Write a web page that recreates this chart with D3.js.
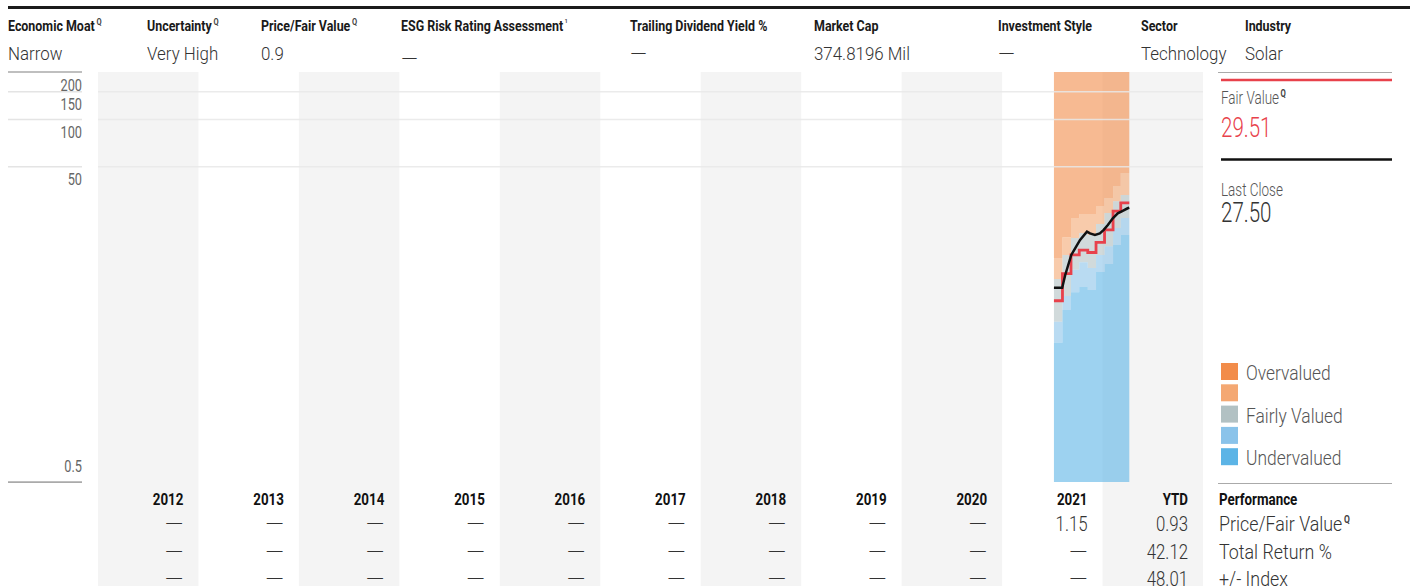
<!DOCTYPE html>
<html>
<head>
<meta charset="utf-8">
<style>
  body { margin: 0; background: #fff; }
  svg { display: block; font-family: Roboto, 'Liberation Sans', sans-serif; }
</style>
<script src="https://cdn.jsdelivr.net/npm/d3@7"></script>
</head>
<body>
<svg id="chart" width="1410" height="586"></svg>
<script>
// header strip
const headerLabels = ['Economic Moat', 'Uncertainty', 'Price/Fair Value', 'ESG Risk Rating Assessment', 'Trailing Dividend Yield %', 'Market Cap', 'Investment Style', 'Sector', 'Industry']
const headerMarks = ['Q', 'Q', 'Q', '1', '', '', '', '', '']
const headerValues = ['Narrow', 'Very High', '0.9', '—', '—', '374.8196 Mil', '—', 'Technology', 'Solar']
const headerX = [8, 147, 261, 401, 630, 814, 998, 1141, 1245]

// columns + table
const years = ['2012', '2013', '2014', '2015', '2016', '2017', '2018', '2019', '2020', '2021', 'YTD']
const priceFairValue = [null, null, null, null, null, null, null, null, null, 1.15, 0.93]
const totalReturn = [null, null, null, null, null, null, null, null, null, null, 42.12]
const plusMinusIndex = [null, null, null, null, null, null, null, null, null, null, 48.01]
const rowLabels = ['Price/Fair Value', 'Total Return %', '+/- Index']

// y axis
const yTicks = [200, 150, 100, 50, 0.5]

// monthly fair value + valuation bands
const monthDates = ['2021-07-08', '2021-08-08', '2021-09-08', '2021-10-08', '2021-11-08', '2021-12-08', '2022-01-08', '2022-02-08', '2022-03-08']
const lastDate = '2022-04-08'
const fairValue = [7.07, 10.5, 13.8, 14.8, 14.3, 16.6, 19.9, 26.2, 29.51]
const overFloor = [13.1, 17.9, 23.7, 25.1, 25.1, 28.2, 31.7, 37.8, 45.7]
const fairCeil = [9.7, 13.8, 17.7, 19.0, 18.5, 21.7, 25.5, 30.3, 33.1]
const fairFloor = [5.2, 7.57, 11.1, 12.4, 11.4, 13.8, 15.7, 20.5, 23.7]
const underCeil = [3.83, 6.17, 8.0, 8.64, 8.27, 10.75, 12.1, 15.95, 18.5]

// price
const priceDates = ['2021-07-08', '2021-08-07', '2021-08-18', '2021-09-09', '2021-09-23', '2021-10-11', '2021-11-05', '2021-11-16', '2021-12-04', '2021-12-22', '2022-01-05', '2022-01-20', '2022-02-07', '2022-02-25', '2022-03-15', '2022-04-02', '2022-04-08']
const priceValues = [8.55, 8.55, 10.3, 13.8, 15.2, 17.2, 19.4, 18.9, 18.5, 18.9, 19.9, 21.4, 23.6, 25.35, 26.3, 27.3, 27.5]

const legendNames = ['Overvalued', '', 'Fairly Valued', '', 'Undervalued']
const legendColors = ['#f28c4a', '#f4a873', '#b2c1c3', '#8ac3ea', '#5cb4e6']

const lastClose = '27.50'
const lastFair = '29.51'

const svg = d3.select('#chart')
const parse = d3.timeParse('%Y-%m-%d')

const colX = d3.scaleBand().domain(years).range([98, 1203]).paddingInner(0)
const x = d3.scaleTime().domain([parse('2012-01-01'), parse('2023-01-01')]).range([98, 1203])
const y = d3.scaleLog().domain([0.5, 200]).range([482, 72])

// condensed look: roboto squeezed horizontally (dashes left wide)
function label (g, px, py, str, o = {}) {
  const sx = str === '—' ? 1.15 : (o.sx || 0.85)
  return g.append('text')
    .attr('transform', `translate(${px},${py}) scale(${sx},1)`)
    .attr('text-anchor', o.anchor || 'start')
    .attr('font-size', o.size || 16)
    .attr('font-weight', o.weight || 'normal')
    .attr('fill', o.fill || '#333')
    .text(str)
}
function mark (t, str, size, dy) {
  t.append('tspan').attr('dx', 2).attr('dy', dy).attr('font-size', size).attr('font-weight', 'bold').attr('fill', '#444').text(str)
}

// top rule
svg.append('rect').attr('x', 8).attr('y', 6).attr('width', 1402).attr('height', 3).attr('fill', '#1b1b1b')

const head = svg.append('g')
headerLabels.forEach((d, i) => {
  const t = label(head, headerX[i], 31, d, { size: 15, weight: 'bold', fill: '#1a1a1a', sx: 0.83 })
  if (headerMarks[i] === 'Q') mark(t, 'Q', 9, -6)
  if (headerMarks[i] === '1') mark(t, '1', 6, -8)
})
headerValues.forEach((d, i) => {
  label(head, headerX[i], i === 3 ? 65 : 60, d, { size: 19, weight: 300, fill: '#333', sx: 0.89 })
})

// alternating column bands
svg.append('g').selectAll('rect').data(years.filter((d, i) => i % 2 === 0)).join('rect')
  .attr('x', d => colX(d))
  .attr('y', 72)
  .attr('width', colX.bandwidth())
  .attr('height', 586 - 72)
  .attr('fill', '#f4f4f4')

// valuation bands
const months = monthDates.map((d, i) => ({
  date: parse(d), fv: fairValue[i], b: [200, overFloor[i], fairCeil[i], fairFloor[i], underCeil[i], 0.5]
}))
months.push(Object.assign({}, months[months.length - 1], { date: parse(lastDate) }))

const bands = svg.append('g')
legendColors.forEach((c, k) => {
  const area = d3.area()
    .curve(d3.curveStepAfter)
    .x(d => x(d.date))
    .y0(d => y(d.b[k + 1]))
    .y1(d => y(d.b[k]))
  bands.append('path').datum(months).attr('d', area).attr('fill', c).attr('fill-opacity', 0.6)
})

// grid lines
const grid = svg.append('g')
grid.selectAll('line.g').data(yTicks.filter(t => t !== 200 && t !== 0.5)).join('line')
  .attr('class', 'g')
  .attr('x1', 98).attr('x2', 1203)
  .attr('y1', d => y(d)).attr('y2', d => y(d))
  .attr('stroke', '#e8e8e8').attr('stroke-opacity', 0.85).attr('stroke-width', 1.5)
grid.selectAll('line.a').data(yTicks).join('line')
  .attr('class', 'a')
  .attr('x1', 8).attr('x2', 82)
  .attr('y1', d => y(d)).attr('y2', d => y(d))
  .attr('stroke', d => (d === 200 || d === 0.5) ? '#aaa' : '#e4e4e4')
  .attr('stroke-width', 1.5)
yTicks.forEach(t => {
  label(grid, 82, t === 0.5 ? y(t) - 10 : y(t) + 18.5, t, { anchor: 'end', size: 17, fill: '#666', sx: 0.75 })
})

// fair value + price
const fvLine = d3.line().curve(d3.curveStepAfter).x(d => x(d.date)).y(d => y(d.fv))
svg.append('path').datum(months).attr('d', fvLine)
  .attr('fill', 'none').attr('stroke', '#e8414b').attr('stroke-width', 2.8)

const price = priceDates.map((d, i) => ({ date: parse(d), v: priceValues[i] }))
svg.append('path').datum(price)
  .attr('d', d3.line().x(d => x(d.date)).y(d => y(d.v)))
  .attr('fill', 'none').attr('stroke', '#111').attr('stroke-width', 2.5)

// right panel
const side = svg.append('g')
side.append('line').attr('x1', 1218).attr('x2', 1392).attr('y1', 72.5).attr('y2', 72.5).attr('stroke', '#aaa')
side.append('line').attr('x1', 1221).attr('x2', 1392).attr('y1', 80).attr('y2', 80).attr('stroke', '#e8414b').attr('stroke-width', 2.5)
const fvt = label(side, 1221, 104, 'Fair Value', { size: 17.5, weight: 300, fill: '#555', sx: 0.77 })
mark(fvt, 'Q', 10, -7)
label(side, 1221, 137, lastFair, { size: 28.5, weight: 300, fill: '#e8414b', sx: 0.72 })
side.append('line').attr('x1', 1221).attr('x2', 1392).attr('y1', 159.5).attr('y2', 159.5).attr('stroke', '#111').attr('stroke-width', 2.5)
label(side, 1221, 195.5, 'Last Close', { size: 17.5, weight: 300, fill: '#555', sx: 0.77 })
label(side, 1221, 221.5, lastClose, { size: 28.5, weight: 300, fill: '#333', sx: 0.72 })

legendColors.forEach((c, i) => {
  const ly = 363 + i * 21.3
  side.append('rect').attr('x', 1221).attr('y', ly).attr('width', 17).attr('height', 17).attr('fill', c)
  label(side, 1246, ly + 17, legendNames[i], { size: 20, weight: 300, fill: '#555', sx: 0.87 })
})

// bottom table
svg.append('line').attr('x1', 8).attr('x2', 82).attr('y1', 482.5).attr('y2', 482.5).attr('stroke', '#aaa')
svg.append('line').attr('x1', 1218).attr('x2', 1392).attr('y1', 483.5).attr('y2', 483.5).attr('stroke', '#aaa')

const table = svg.append('g')
years.forEach(d => {
  label(table, colX(d) + colX.bandwidth() - 15, 505, d, { anchor: 'end', size: 16.5, weight: 'bold', fill: '#111', sx: 0.81 })
})
label(table, 1219, 505, 'Performance', { size: 16.5, weight: 'bold', fill: '#111', sx: 0.81 })

const fmt = d3.format('.2f')
;[priceFairValue, totalReturn, plusMinusIndex].forEach((row, r) => {
  const ry = 531 + r * 27.5
  row.forEach((d, i) => {
    label(table, colX(years[i]) + colX.bandwidth() - 15, ry, d === null ? '—' : fmt(d), { anchor: 'end', size: 21, weight: 300, fill: '#333', sx: 0.8 })
  })
  const t = label(table, 1219, ry, rowLabels[r], { size: 21, weight: 300, fill: '#333', sx: 0.85 })
  if (r === 0) mark(t, 'Q', 10, -8)
})
</script>
</body>
</html>
